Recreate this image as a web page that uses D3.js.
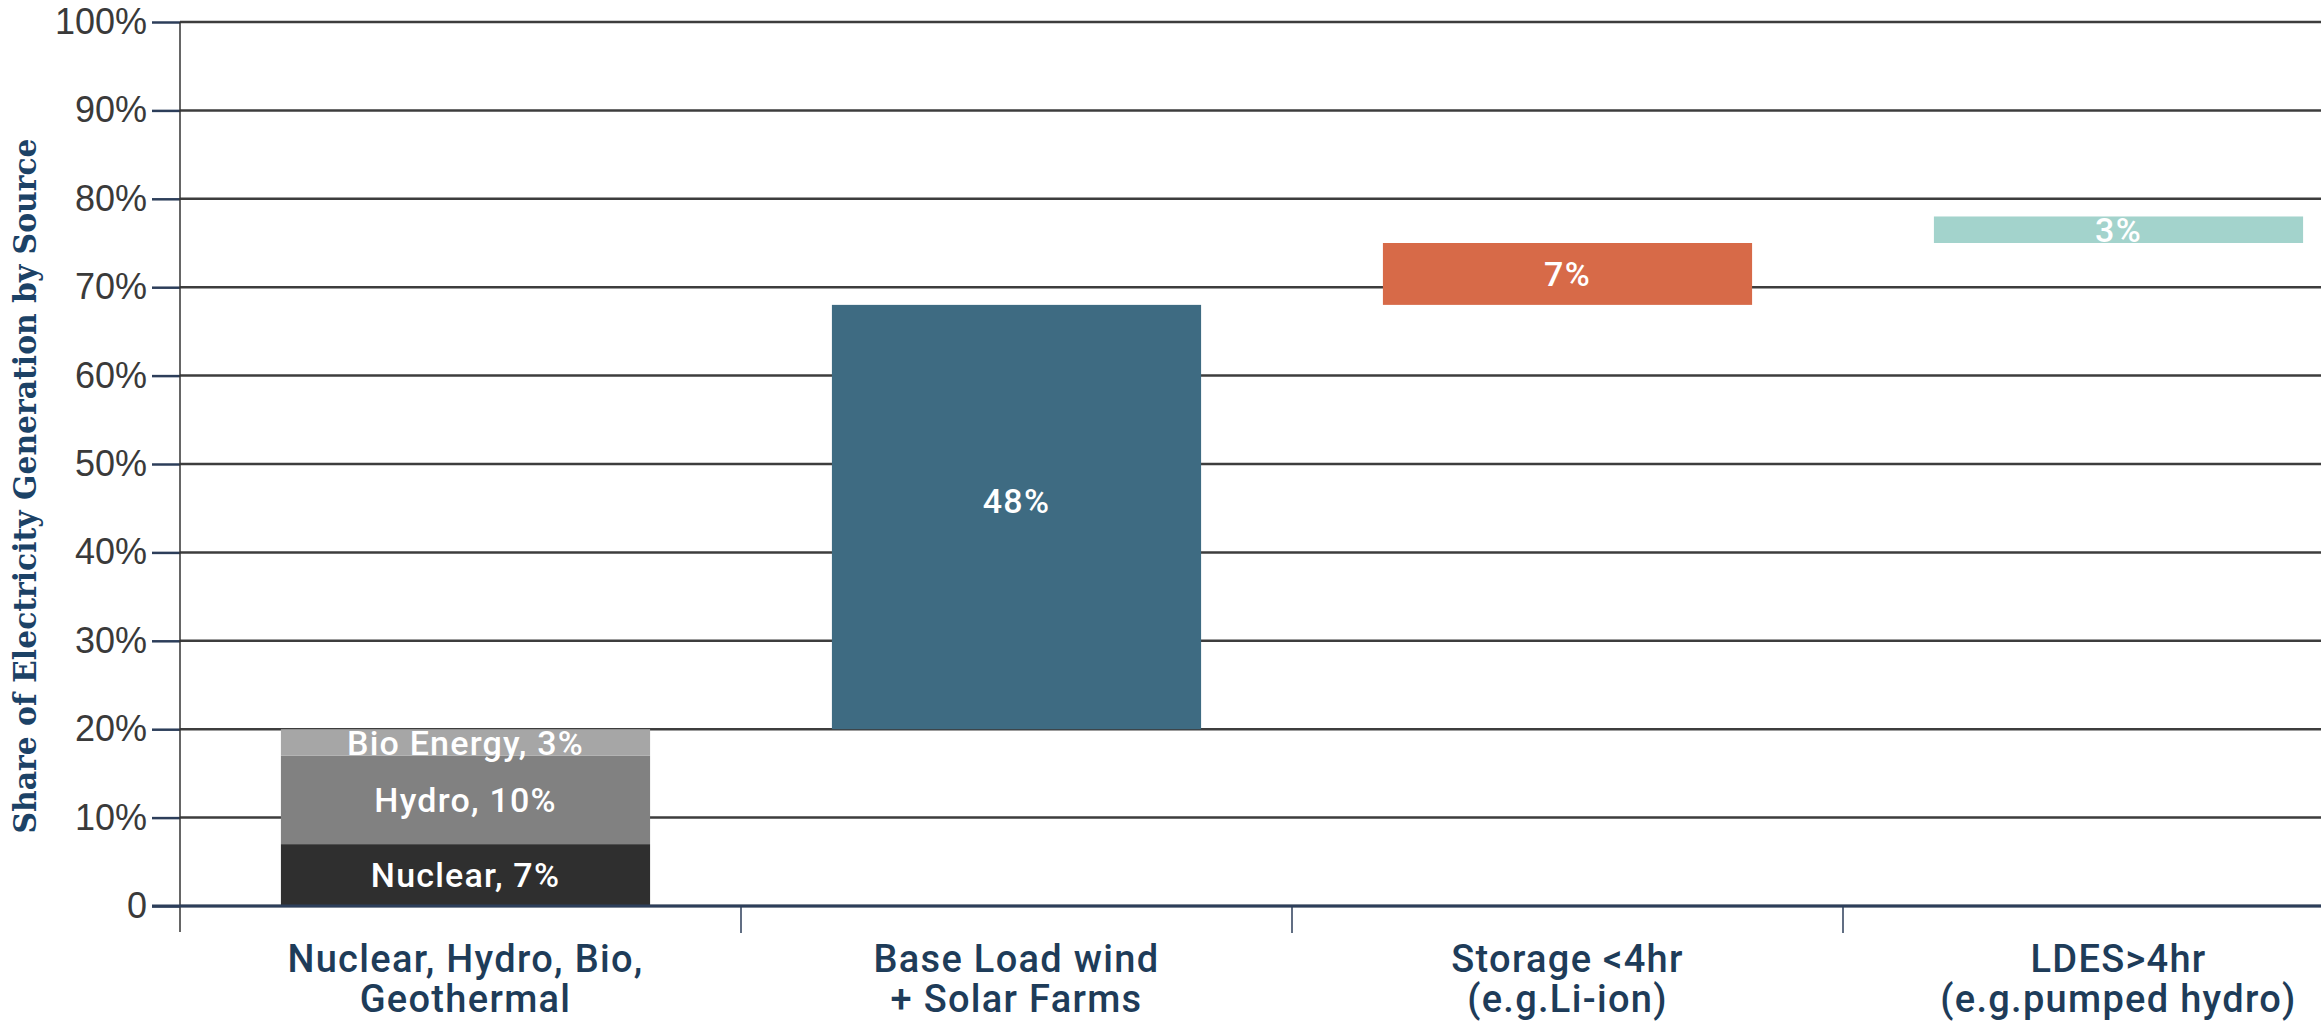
<!DOCTYPE html>
<html>
<head>
<meta charset="utf-8">
<script src="https://cdn.jsdelivr.net/npm/d3@7"></script>
<style>
  html, body { margin: 0; padding: 0; background: #ffffff; }
  svg { display: block; }
</style>
</head>
<body>
<script>
// Categories along the x axis (two lines each)
const categories = ["firm", "base", "storage", "ldes"];
const categoryLines = [
  ["Nuclear, Hydro, Bio,", "Geothermal"],
  ["Base Load wind", "+ Solar Farms"],
  ["Storage <4hr", "(e.g.Li-ion)"],
  ["LDES>4hr", "(e.g.pumped hydro)"]
];

// Stacked segments of the first column (share of generation, %)
const firmNames = ["Nuclear", "Hydro", "Bio Energy"];
const firmValues = [7, 10, 3];

// Floating columns: each starts where the previous total ends
const stepCategories = ["base", "storage", "ldes"];
const stepValues = [48, 7, 3];

// Y axis ticks
const yTicks = [0, 10, 20, 30, 40, 50, 60, 70, 80, 90, 100];
const yTitle = "Share of Electricity Generation by Source";

const colors = {
  Nuclear: "#2f2f2f",
  Hydro: "#818181",
  "Bio Energy": "#a6a6a6",
  base: "#3e6b82",
  storage: "#d76a48",
  ldes: "#a3d3cc"
};

const W = 2321, H = 1022;
const axisX = 180;

const svg = d3.select("body").append("svg")
  .attr("width", W).attr("height", H);

const y = d3.scaleLinear().domain([0, 100]).range([906, 22]);
const x = d3.scaleBand().domain(categories).range([190, 2394]).paddingInner(0.33).paddingOuter(0.165);

// Horizontal gridlines
svg.append("g").selectAll("line").data(yTicks).join("line")
  .attr("x1", axisX).attr("x2", W)
  .attr("y1", d => y(d)).attr("y2", d => y(d))
  .attr("stroke", "#3d3d3d").attr("stroke-width", 2.5);

// Build segments
const segs = [];
let acc = 0;
firmNames.forEach((n, i) => {
  segs.push({ cat: "firm", y0: acc, y1: acc + firmValues[i], color: colors[n], label: `${n}, ${firmValues[i]}%` });
  acc += firmValues[i];
});
stepCategories.forEach((c, i) => {
  segs.push({ cat: c, y0: acc, y1: acc + stepValues[i], color: colors[c], label: `${stepValues[i]}%` });
  acc += stepValues[i];
});

// Bars
svg.append("g").selectAll("rect").data(segs).join("rect")
  .attr("x", d => x(d.cat))
  .attr("width", x.bandwidth())
  .attr("y", d => y(d.y1))
  .attr("height", d => y(d.y0) - y(d.y1))
  .attr("fill", d => d.color);

// Value labels inside bars (tall bars carry their label a little above centre)
svg.append("g").selectAll("text").data(segs).join("text")
  .attr("x", d => x(d.cat) + x.bandwidth() / 2)
  .attr("y", d => {
    const mid = (y(d.y0) + y(d.y1)) / 2;
    return (y(d.y0) - y(d.y1)) > 200 ? mid - 16 : mid;
  })
  .attr("dy", "0.36em")
  .attr("text-anchor", "middle")
  .attr("fill", "#ffffff")
  .attr("font-family", "Roboto, sans-serif")
  .attr("font-weight", 500)
  .attr("font-size", 34)
  .attr("letter-spacing", 1.2)
  .text(d => d.label);

// Y axis: ticks and labels
const yAxis = d3.axisLeft(y)
  .tickValues(yTicks)
  .tickSize(28)
  .tickPadding(5)
  .tickFormat(d => d === 0 ? "0" : d + "%");
const gy = svg.append("g").attr("transform", `translate(${axisX},0)`).call(yAxis);
gy.select(".domain").remove();
gy.selectAll(".tick line").attr("stroke", "#2c3e5a").attr("stroke-width", 2.5);
gy.selectAll(".tick text")
  .attr("font-family", "'Liberation Sans', Arial, sans-serif")
  .attr("font-size", 36)
  .attr("fill", "#3a3a3a");

// Vertical axis line
svg.append("line")
  .attr("x1", axisX).attr("x2", axisX)
  .attr("y1", y(100)).attr("y2", 932)
  .attr("stroke", "#333333").attr("stroke-width", 1.5);

// Baseline at zero
svg.append("line")
  .attr("x1", 152).attr("x2", W)
  .attr("y1", y(0)).attr("y2", y(0))
  .attr("stroke", "#2c3e5a").attr("stroke-width", 3);

// Category dividers between bands
const dividers = categories.slice(1).map(c => x(c) - x.step() * x.paddingInner() / 2);
svg.append("g").selectAll("line").data(dividers).join("line")
  .attr("x1", d => d).attr("x2", d => d)
  .attr("y1", y(0)).attr("y2", 933)
  .attr("stroke", "#2c3e5a").attr("stroke-width", 1.5);

// Category labels
const catText = svg.append("g").selectAll("text").data(categories).join("text")
  .attr("text-anchor", "middle")
  .attr("font-family", "Roboto, sans-serif")
  .attr("font-weight", 500)
  .attr("font-size", 38)
  .attr("letter-spacing", 1.3)
  .attr("fill", "#1e3c59");
catText.each(function(c, i) {
  const t = d3.select(this);
  categoryLines[i].forEach((line, j) => {
    t.append("tspan")
      .attr("x", x(c) + x.bandwidth() / 2)
      .attr("y", 972 + j * 40)
      .text(line);
  });
});

// Y axis title
svg.append("text")
  .attr("transform", `translate(36,${486}) rotate(-90)`)
  .attr("text-anchor", "middle")
  .attr("font-family", "'DejaVu Serif', serif")
  .attr("font-weight", "bold")
  .attr("font-size", 31)
  .attr("textLength", 695)
  .attr("lengthAdjust", "spacingAndGlyphs")
  .attr("fill", "#1c4266")
  .text(yTitle);
</script>
</body>
</html>
